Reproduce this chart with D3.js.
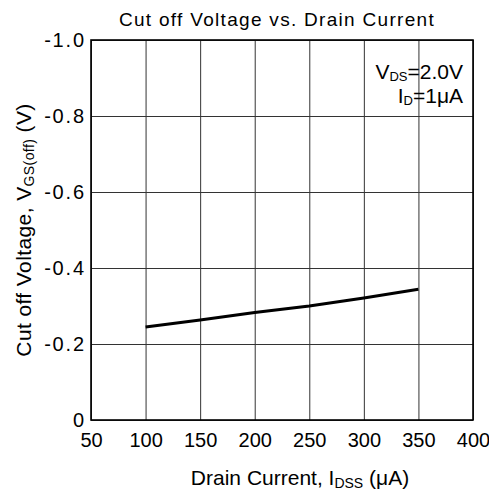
<!DOCTYPE html>
<html>
<head>
<meta charset="utf-8">
<script src="https://cdn.jsdelivr.net/npm/d3@7"></script>
<style>
  body { margin: 0; background: #fff; }
  svg { display: block; font-family: "Liberation Sans", Arial, sans-serif; }
</style>
</head>
<body>
<svg id="chart" width="489" height="493"></svg>
<script>
// values
var xTicks = [50, 100, 150, 200, 250, 300, 350, 400];
var yTicks = [0, -0.2, -0.4, -0.6, -0.8, -1.0];
var drainCurrent = [100, 150, 200, 250, 300, 350];   // IDSS (uA)
var cutoffVoltage = [-0.245, -0.263, -0.283, -0.300, -0.321, -0.344]; // VGS(off) (V)

window.addEventListener( "load", makeChart );
function makeChart() {
    var svg = d3.select( "#chart" );
    var left = 91, right = 473, top = 40, bottom = 420;

    var x = d3.scaleLinear().domain( [50, 400] ).range( [left, right] );
    var y = d3.scaleLinear().domain( [0, -1.0] ).range( [bottom, top] );

    // grid + tick labels
    var gx = svg.append( "g" ).attr( "transform", "translate(0," + bottom + ")" )
        .call( d3.axisBottom( x ).tickValues( xTicks ).tickSize( -(bottom-top) )
               .tickPadding( 13 ).tickFormat( d3.format( "d" ) ) );
    var gy = svg.append( "g" ).attr( "transform", "translate(" + left + ",0)" )
        .call( d3.axisLeft( y ).tickValues( yTicks ).tickSize( -(right-left) )
               .tickPadding( 7 ).tickFormat( d => d === 0 ? "0" : d.toFixed(1) ) );

    [gx, gy].forEach( function(g) {
        g.select( ".domain" ).remove();
        g.selectAll( "line" ).attr( "stroke", "#333" ).attr( "stroke-width", 1 );
        g.selectAll( "text" ).attr( "font-size", 20 ).attr( "fill", "#000" )
            .attr( "font-family", "Liberation Sans, Arial, sans-serif" );
    } );
    gy.selectAll( "text" ).attr( "letter-spacing", 1.8 ).attr( "dx", 1.8 );

    svg.append( "rect" )
        .attr( "x", left ).attr( "y", top )
        .attr( "width", right-left ).attr( "height", bottom-top )
        .attr( "fill", "none" ).attr( "stroke", "#000" ).attr( "stroke-width", 1.6 );

    // curve
    var pts = drainCurrent.map( (d,i) => [d, cutoffVoltage[i]] );
    svg.append( "path" ).datum( pts )
        .attr( "d", d3.line().x( d=>x(d[0]) ).y( d=>y(d[1]) ) )
        .attr( "fill", "none" ).attr( "stroke", "#000" ).attr( "stroke-width", 3 );

    // title
    svg.append( "text" ).attr( "x", 277 ).attr( "y", 26 )
        .attr( "text-anchor", "middle" ).attr( "font-size", 19 )
        .attr( "letter-spacing", 1.3 )
        .text( "Cut off Voltage vs. Drain Current" );

    // x label
    var xl = svg.append( "text" ).attr( "x", 300 ).attr( "y", 485 )
        .attr( "text-anchor", "middle" ).attr( "font-size", 21 );
    xl.append( "tspan" ).text( "Drain Current, I" );
    xl.append( "tspan" ).attr( "font-size", 14 ).attr( "dy", 3 ).text( "DSS" );
    xl.append( "tspan" ).attr( "dy", -3 ).text( " (\u03bcA)" );

    // y label
    var yl = svg.append( "text" )
        .attr( "transform", "translate(31,230) rotate(-90)" )
        .attr( "text-anchor", "middle" ).attr( "font-size", 21 )
        .attr( "letter-spacing", 0.4 );
    yl.append( "tspan" ).text( "Cut off Voltage, V" );
    yl.append( "tspan" ).attr( "font-size", 14 ).attr( "dy", 3 ).text( "GS(off)" );
    yl.append( "tspan" ).attr( "dy", -3 ).text( " (V)" );

    // conditions
    var c1 = svg.append( "text" ).attr( "x", 463 ).attr( "y", 79 )
        .attr( "text-anchor", "end" ).attr( "font-size", 21 );
    c1.append( "tspan" ).text( "V" );
    c1.append( "tspan" ).attr( "font-size", 13 ).attr( "dy", 2 ).text( "DS" );
    c1.append( "tspan" ).attr( "dy", -2 ).text( "=2.0V" );

    var c2 = svg.append( "text" ).attr( "x", 463 ).attr( "y", 103 )
        .attr( "text-anchor", "end" ).attr( "font-size", 21 );
    c2.append( "tspan" ).text( "I" );
    c2.append( "tspan" ).attr( "font-size", 13 ).attr( "dy", 2 ).text( "D" );
    c2.append( "tspan" ).attr( "dy", -2 ).text( "=1\u03bcA" );
}
</script>
</body>
</html>
